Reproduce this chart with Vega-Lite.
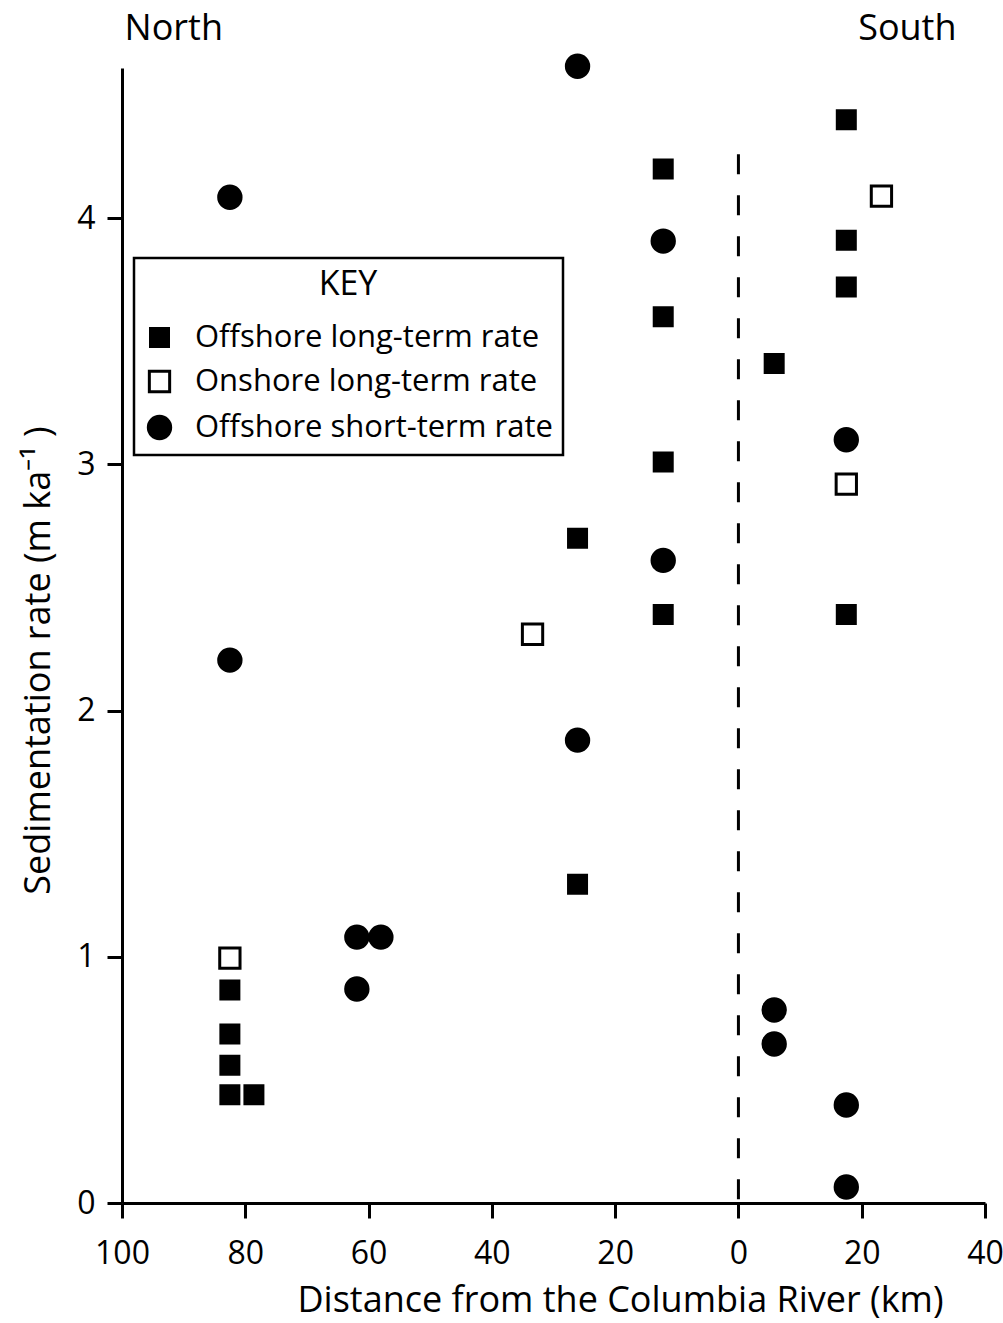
{
  "$schema": "https://vega.github.io/schema/vega-lite/v6.json",
  "width": 863,
  "height": 1135,
  "autosize": {"type": "none"},
  "padding": {"left": 122, "top": 68, "right": 18, "bottom": 120},
  "background": "white",
  "config": {
    "font": "Open Sans",
    "view": {"stroke": null},
    "legend": {"strokeWidth": 2.5},
    "axis": {
      "grid": false,
      "domainColor": "black",
      "domainWidth": 3,
      "tickColor": "black",
      "tickWidth": 3,
      "tickSize": 15,
      "labelColor": "black",
      "labelFontSize": 32,
      "labelFlush": false,
      "titleColor": "black",
      "titleFontSize": 36,
      "titleFontWeight": "normal"
    }
  },
  "datasets": {
    "pts": [
      {"dist": -82.5, "rate": 0.865, "type": "Offshore long-term rate"},
      {"dist": -82.5, "rate": 0.686, "type": "Offshore long-term rate"},
      {"dist": -82.5, "rate": 0.56, "type": "Offshore long-term rate"},
      {"dist": -82.5, "rate": 0.44, "type": "Offshore long-term rate"},
      {"dist": -78.6, "rate": 0.44, "type": "Offshore long-term rate"},
      {"dist": -26.1, "rate": 1.295, "type": "Offshore long-term rate"},
      {"dist": -26.1, "rate": 2.7, "type": "Offshore long-term rate"},
      {"dist": -12.2, "rate": 4.2, "type": "Offshore long-term rate"},
      {"dist": -12.2, "rate": 3.6, "type": "Offshore long-term rate"},
      {"dist": -12.2, "rate": 3.01, "type": "Offshore long-term rate"},
      {"dist": -12.2, "rate": 2.39, "type": "Offshore long-term rate"},
      {"dist": 5.8, "rate": 3.41, "type": "Offshore long-term rate"},
      {"dist": 17.5, "rate": 4.4, "type": "Offshore long-term rate"},
      {"dist": 17.5, "rate": 3.91, "type": "Offshore long-term rate"},
      {"dist": 17.5, "rate": 3.72, "type": "Offshore long-term rate"},
      {"dist": 17.5, "rate": 2.39, "type": "Offshore long-term rate"},
      {"dist": -82.5, "rate": 0.995, "type": "Onshore long-term rate"},
      {"dist": -33.4, "rate": 2.31, "type": "Onshore long-term rate"},
      {"dist": 17.5, "rate": 2.92, "type": "Onshore long-term rate"},
      {"dist": 23.2, "rate": 4.09, "type": "Onshore long-term rate"},
      {"dist": -82.5, "rate": 4.085, "type": "Offshore short-term rate"},
      {"dist": -82.5, "rate": 2.205, "type": "Offshore short-term rate"},
      {"dist": -26.1, "rate": 4.617, "type": "Offshore short-term rate"},
      {"dist": -12.2, "rate": 3.907, "type": "Offshore short-term rate"},
      {"dist": -12.2, "rate": 2.61, "type": "Offshore short-term rate"},
      {"dist": -26.1, "rate": 1.88, "type": "Offshore short-term rate"},
      {"dist": -61.9, "rate": 1.08, "type": "Offshore short-term rate"},
      {"dist": -58.0, "rate": 1.08, "type": "Offshore short-term rate"},
      {"dist": -61.9, "rate": 0.869, "type": "Offshore short-term rate"},
      {"dist": 5.8, "rate": 0.784, "type": "Offshore short-term rate"},
      {"dist": 5.8, "rate": 0.646, "type": "Offshore short-term rate"},
      {"dist": 17.5, "rate": 3.1, "type": "Offshore short-term rate"},
      {"dist": 17.5, "rate": 0.398, "type": "Offshore short-term rate"},
      {"dist": 17.5, "rate": 0.065, "type": "Offshore short-term rate"}
    ]
  },
  "layer": [
    {
      "data": {"values": [{"dist": 0, "top": 4.26, "bottom": 0}]},
      "mark": {"type": "rule", "color": "black", "strokeWidth": 3, "strokeDash": [20, 21]},
      "encoding": {
        "x": {"field": "dist", "type": "quantitative", "scale": {"domain": [-100, 40], "nice": false}},
        "y": {"field": "top", "type": "quantitative"},
        "y2": {"field": "bottom"}
      }
    },
    {
      "data": {"name": "pts"},
      "mark": {"type": "point", "filled": true, "stroke": "black", "strokeWidth": 3, "opacity": 1},
      "encoding": {
        "x": {
          "field": "dist", "type": "quantitative",
          "scale": {"domain": [-100, 40], "nice": false},
          "axis": {
            "values": [-100, -80, -60, -40, -20, 0, 20, 40],
            "labelExpr": "abs(datum.value)",
            "labelPadding": 20,
            "title": "Distance from the Columbia River (km)",
            "titleX": 498,
            "titleY": 97,
            "titleBaseline": "middle",
            "titleAlign": "center"
          }
        },
        "y": {
          "field": "rate", "type": "quantitative",
          "scale": {"domain": [0, 4.61], "nice": false},
          "axis": {
            "values": [0, 1, 2, 3, 4],
            "format": "d",
            "labelPadding": 12,
            "title": "Sedimentation rate (m ka⁻¹ )",
            "titleX": -84,
            "titleY": 592,
            "titleBaseline": "middle",
            "titleAlign": "center",
            "titleAngle": -90
          }
        },
        "shape": {
          "field": "type", "type": "nominal", "title": "KEY",
          "scale": {"domain": ["Offshore long-term rate", "Onshore long-term rate", "Offshore short-term rate"], "range": ["square", "square", "circle"]}
        },
        "fill": {
          "field": "type", "type": "nominal", "title": "KEY",
          "scale": {"domain": ["Offshore long-term rate", "Onshore long-term rate", "Offshore short-term rate"], "range": ["black", "white", "black"]},
          "legend": {
            "orient": "none",
            "legendX": 12,
            "legendY": 190,
            "strokeColor": "black",
            "padding": 10,
            "titleFontSize": 34,
            "titleFontWeight": "normal",
            "titleColor": "black",
            "titleAnchor": "middle",
            "titlePadding": 20,
            "labelFontSize": 31,
            "labelLimit": 600,
            "labelColor": "black",
            "labelOffset": 20,
            "rowPadding": 12,
            "symbolStrokeWidth": 3,
            "symbolStrokeColor": "black"
          }
        },
        "size": {
          "field": "type", "type": "nominal", "title": "KEY",
          "scale": {"domain": ["Offshore long-term rate", "Onshore long-term rate", "Offshore short-term rate"], "range": [324, 500, 361]}
        }
      }
    },
    {
      "data": {"values": [{"label": "North", "dist": -91.6, "rate": 4.77}, {"label": "South", "dist": 27.4, "rate": 4.77}]},
      "mark": {"type": "text", "fontSize": 36, "color": "black", "baseline": "middle", "align": "center"},
      "encoding": {
        "x": {"field": "dist", "type": "quantitative"},
        "y": {"field": "rate", "type": "quantitative"},
        "text": {"field": "label"}
      }
    }
  ]
}
